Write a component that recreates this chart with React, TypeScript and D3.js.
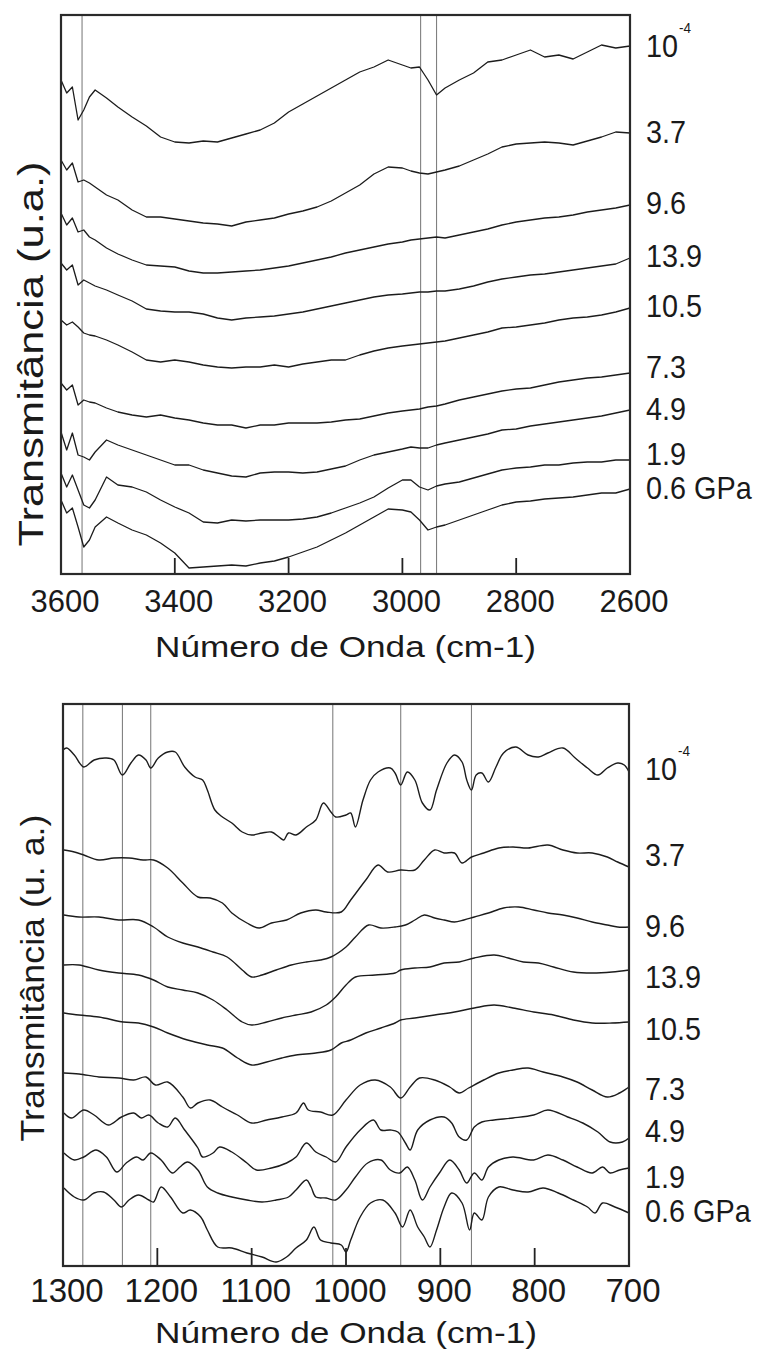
import React from "react";
import * as d3 from "d3";

type Pt = [number, number];

// ---------- Top panel (3600–2600 cm-1) ----------
const TOP_WAVENUMBERS = [3600, 3590, 3580, 3570, 3560, 3550, 3540, 3520, 3500, 3475, 3450, 3425, 3400, 3375, 3350, 3325, 3300, 3275, 3250, 3225, 3200, 3175, 3150, 3125, 3100, 3075, 3050, 3025, 3000, 2985, 2970, 2955, 2940, 2925, 2900, 2875, 2850, 2825, 2800, 2775, 2750, 2725, 2700, 2675, 2650, 2625, 2600];

const topP1e4 = [49.4, 48.1, 48.7, 45.4, 46.4, 47.7, 48.4, 47.6, 46.7, 45.7, 44.8, 43.7, 43.2, 43.1, 43.3, 43.2, 43.6, 44.0, 44.4, 45.1, 46.2, 47.0, 47.8, 48.6, 49.4, 50.2, 50.7, 51.4, 50.9, 50.6, 50.7, 49.4, 47.9, 48.6, 49.4, 50.1, 51.2, 51.4, 51.9, 52.4, 51.7, 51.9, 51.5, 52.2, 52.9, 52.6, 52.8];
const topP3_7 = [41.4, 40.4, 41.1, 39.2, 39.4, 39.1, 38.7, 37.9, 37.4, 36.4, 35.7, 35.7, 35.5, 35.3, 35.1, 35.0, 34.8, 35.2, 35.4, 35.6, 36.0, 36.3, 36.7, 37.3, 38.1, 38.9, 40.0, 40.7, 40.6, 40.3, 40.1, 40.0, 40.2, 40.4, 40.8, 41.4, 42.0, 42.7, 43.0, 43.1, 43.2, 43.1, 42.9, 43.3, 43.7, 44.2, 44.1];
const topP9_6 = [36.1, 34.9, 35.6, 34.2, 34.4, 33.7, 33.4, 32.6, 32.0, 31.4, 30.9, 30.8, 30.7, 30.3, 30.1, 30.1, 30.2, 30.3, 30.4, 30.6, 30.8, 31.1, 31.4, 31.7, 32.1, 32.4, 32.7, 33.0, 33.2, 33.4, 33.5, 33.6, 33.7, 33.6, 33.9, 34.2, 34.5, 34.9, 35.2, 35.4, 35.6, 35.7, 35.9, 36.2, 36.4, 36.6, 36.9];
const topP13_9 = [31.1, 30.4, 30.9, 28.9, 29.4, 29.1, 28.8, 28.4, 27.9, 27.3, 26.5, 26.3, 26.2, 26.2, 26.0, 25.6, 25.4, 25.6, 25.7, 25.8, 26.0, 26.2, 26.5, 26.8, 27.1, 27.4, 27.7, 27.9, 28.0, 28.1, 28.2, 28.2, 28.3, 28.3, 28.5, 28.8, 29.2, 29.5, 29.7, 29.9, 30.0, 30.2, 30.4, 30.6, 30.8, 31.0, 31.6];
const topP10_5 = [25.4, 24.9, 25.2, 24.7, 24.1, 23.9, 23.8, 23.4, 22.9, 22.2, 21.4, 21.2, 21.4, 21.2, 20.9, 20.7, 20.6, 20.7, 20.7, 20.9, 20.7, 21.0, 21.2, 21.4, 21.4, 21.9, 22.3, 22.6, 22.8, 22.9, 23.0, 23.1, 23.2, 23.3, 23.6, 23.9, 24.2, 24.6, 24.7, 24.9, 25.1, 25.4, 25.6, 25.7, 25.9, 26.2, 26.6];
const topP7_3 = [19.1, 18.4, 18.9, 16.9, 17.4, 17.2, 17.1, 16.6, 16.2, 15.9, 15.7, 15.9, 15.6, 15.4, 15.1, 14.9, 14.9, 14.6, 14.9, 14.9, 15.1, 15.1, 15.1, 15.2, 15.4, 15.5, 15.8, 16.1, 16.3, 16.4, 16.5, 16.7, 16.8, 17.0, 17.4, 17.7, 18.0, 18.3, 18.5, 18.6, 18.9, 19.2, 19.4, 19.6, 19.7, 19.9, 20.1];
const topP4_9 = [14.2, 12.4, 14.1, 11.9, 11.7, 11.4, 12.2, 13.4, 12.9, 12.4, 11.9, 11.4, 10.9, 10.9, 10.4, 10.1, 9.8, 9.7, 10.1, 10.2, 10.2, 10.1, 10.2, 10.5, 10.8, 11.4, 11.9, 12.2, 12.5, 12.7, 12.6, 12.6, 12.9, 13.1, 13.4, 13.7, 14.0, 14.4, 14.5, 14.8, 15.0, 15.2, 15.4, 15.6, 15.8, 16.1, 16.4];
const topP1_9 = [10.1, 8.7, 9.9, 8.4, 6.9, 6.6, 7.4, 9.7, 8.9, 8.7, 8.2, 7.4, 6.7, 6.1, 5.2, 5.1, 5.4, 5.3, 5.4, 5.4, 5.4, 5.5, 5.7, 6.1, 6.6, 7.1, 7.7, 8.6, 9.4, 9.4, 8.7, 8.4, 8.8, 9.0, 9.2, 9.6, 10.0, 10.4, 10.6, 10.7, 10.9, 10.9, 11.1, 11.2, 11.2, 11.4, 11.4];
const topP0_6 = [7.4, 6.1, 6.6, 4.7, 2.7, 3.4, 4.7, 5.7, 5.1, 4.4, 3.9, 3.1, 2.1, 0.6, 0.7, 0.8, 0.9, 0.8, 1.1, 1.3, 1.7, 2.2, 2.7, 3.4, 4.1, 4.9, 5.7, 6.5, 6.4, 6.2, 5.4, 4.4, 4.7, 4.9, 5.4, 5.9, 6.4, 6.9, 7.2, 7.3, 7.5, 7.6, 7.7, 7.9, 8.1, 8.1, 8.5];

const TOP_TICKS = [3600, 3400, 3200, 3000, 2800, 2600];
const TOP_MARKERS = [3563, 2968, 2940];
const PRESSURE_LABELS = ["10", "3.7", "9.6", "13.9", "10.5", "7.3", "4.9", "1.9", "0.6 GPa"];
const TOP_LABEL_LEVELS = [51.7, 43.1, 36.0, 30.7, 25.7, 19.6, 15.4, 10.9, 7.5];

// ---------- Bottom panel (1300–700 cm-1) ----------
const botP1e4: Pt[] = [[1300, 51.6], [1296, 51.8], [1288, 51.1], [1278, 49.9], [1267, 50.6], [1254, 50.8], [1246, 50.6], [1237, 49.1], [1228, 50.3], [1220, 51.1], [1212, 50.6], [1207, 49.8], [1199, 50.8], [1189, 51.4], [1181, 51.4], [1171, 49.9], [1160, 48.9], [1152, 48.6], [1147, 47.6], [1139, 45.6], [1131, 44.9], [1121, 44.3], [1110, 43.4], [1100, 43.1], [1089, 43.3], [1079, 43.4], [1071, 42.9], [1066, 42.6], [1061, 43.3], [1053, 43.1], [1042, 43.9], [1032, 44.6], [1024, 46.3], [1016, 45.4], [1011, 44.9], [1000, 45.1], [995, 45.3], [990, 43.9], [982, 46.6], [974, 48.6], [966, 49.4], [953, 49.8], [948, 49.3], [942, 48.1], [935, 49.4], [927, 48.6], [919, 46.3], [911, 45.6], [904, 47.6], [893, 50.3], [885, 51.1], [877, 50.4], [872, 48.6], [867, 47.6], [862, 49.1], [856, 49.3], [849, 48.4], [841, 49.9], [833, 51.3], [820, 51.9], [807, 51.1], [796, 50.9], [786, 51.3], [770, 51.8], [757, 50.8], [744, 49.8], [733, 49.1], [723, 49.8], [712, 50.3], [705, 50.1], [700, 49.4]];
const botP3_7: Pt[] = [[1299, 41.6], [1288, 41.4], [1278, 41.1], [1262, 40.6], [1246, 40.8], [1230, 40.8], [1215, 40.6], [1204, 40.6], [1189, 39.8], [1173, 38.3], [1157, 36.9], [1144, 36.8], [1131, 36.3], [1121, 35.3], [1105, 34.3], [1092, 33.8], [1079, 34.3], [1063, 34.6], [1048, 35.3], [1032, 35.6], [1021, 35.4], [1005, 35.4], [995, 36.6], [979, 38.6], [966, 40.1], [956, 39.4], [942, 39.6], [927, 39.6], [917, 40.6], [906, 41.6], [896, 41.3], [885, 41.3], [877, 40.3], [867, 40.9], [854, 41.3], [838, 41.8], [823, 41.9], [807, 41.8], [786, 42.1], [770, 41.6], [755, 41.3], [739, 41.3], [723, 40.9], [712, 40.4], [700, 39.9]];
const botP9_6: Pt[] = [[1299, 35.1], [1283, 34.9], [1262, 34.9], [1241, 34.6], [1220, 34.6], [1204, 33.9], [1189, 32.9], [1173, 32.3], [1157, 31.9], [1141, 31.4], [1126, 30.9], [1110, 29.6], [1100, 28.9], [1089, 29.1], [1074, 29.6], [1058, 30.1], [1042, 30.4], [1027, 30.6], [1016, 30.9], [1000, 31.9], [990, 32.9], [976, 34.1], [963, 33.8], [948, 33.9], [937, 34.1], [927, 34.6], [917, 35.1], [906, 34.8], [896, 34.6], [885, 34.4], [875, 34.6], [864, 34.9], [849, 35.3], [833, 35.8], [817, 35.9], [801, 35.6], [786, 35.3], [770, 35.1], [755, 34.8], [739, 34.4], [723, 34.1], [712, 33.9], [700, 33.9]];
const botP13_9: Pt[] = [[1299, 30.1], [1283, 30.1], [1262, 29.6], [1241, 29.3], [1220, 29.1], [1204, 28.6], [1189, 27.9], [1173, 27.6], [1157, 27.3], [1141, 26.6], [1126, 25.6], [1110, 24.4], [1100, 24.1], [1084, 24.4], [1068, 24.8], [1053, 25.1], [1037, 25.4], [1021, 26.1], [1011, 26.9], [1000, 28.1], [990, 28.9], [969, 29.1], [948, 29.3], [942, 29.6], [927, 29.8], [911, 29.9], [896, 30.3], [880, 30.4], [864, 30.8], [843, 31.1], [828, 30.8], [812, 30.4], [796, 30.3], [780, 29.9], [759, 29.4], [739, 29.3], [718, 29.4], [700, 29.6]];
const botP10_5: Pt[] = [[1299, 25.3], [1283, 25.1], [1262, 24.9], [1236, 24.4], [1220, 24.3], [1204, 23.9], [1189, 23.3], [1168, 22.6], [1147, 22.1], [1131, 21.8], [1115, 20.8], [1100, 20.1], [1084, 20.4], [1068, 20.8], [1053, 21.1], [1032, 21.3], [1016, 21.6], [1005, 22.3], [995, 22.6], [979, 23.3], [963, 23.8], [948, 24.3], [942, 24.6], [927, 24.8], [906, 25.1], [885, 25.4], [864, 25.8], [843, 26.1], [823, 25.8], [801, 25.4], [780, 25.1], [759, 24.6], [739, 24.3], [718, 24.3], [700, 24.4]];
const botP7_3: Pt[] = [[1299, 19.3], [1283, 19.2], [1262, 18.9], [1241, 18.8], [1225, 18.6], [1212, 18.9], [1202, 18.1], [1189, 18.4], [1173, 16.9], [1165, 15.8], [1157, 16.3], [1144, 16.6], [1131, 15.9], [1115, 15.1], [1100, 14.3], [1084, 14.6], [1068, 14.9], [1053, 15.3], [1045, 16.3], [1040, 15.6], [1027, 15.4], [1014, 15.1], [1000, 16.6], [985, 18.1], [969, 18.6], [953, 17.9], [942, 16.8], [932, 17.9], [922, 18.8], [906, 18.6], [890, 17.9], [880, 17.3], [870, 17.8], [854, 18.6], [838, 19.3], [823, 19.6], [807, 19.8], [791, 19.4], [770, 18.9], [755, 18.4], [739, 17.6], [723, 16.9], [710, 17.3], [700, 17.9]];
const botP4_9: Pt[] = [[1299, 15.3], [1291, 14.8], [1278, 15.6], [1267, 15.1], [1252, 14.1], [1238, 14.9], [1225, 15.3], [1217, 14.8], [1209, 15.1], [1199, 14.3], [1189, 13.9], [1181, 14.8], [1171, 13.6], [1157, 11.8], [1152, 10.9], [1141, 11.3], [1134, 11.9], [1121, 11.4], [1105, 10.3], [1095, 9.6], [1079, 9.8], [1063, 10.3], [1053, 10.9], [1042, 12.3], [1032, 11.4], [1021, 10.9], [1011, 10.4], [1000, 11.9], [985, 13.6], [971, 14.6], [963, 13.6], [953, 13.6], [945, 13.4], [937, 12.3], [932, 11.6], [924, 13.6], [911, 14.6], [896, 14.9], [888, 14.3], [880, 12.9], [872, 12.6], [864, 13.9], [856, 14.4], [843, 14.6], [823, 14.8], [801, 15.1], [786, 15.6], [765, 14.9], [749, 14.3], [733, 13.4], [720, 12.4], [707, 12.4], [700, 12.8]];
const botP1_9: Pt[] = [[1299, 11.3], [1288, 10.6], [1278, 10.9], [1265, 11.6], [1254, 10.9], [1243, 9.4], [1233, 10.3], [1222, 10.9], [1215, 10.6], [1207, 11.3], [1196, 10.6], [1184, 9.3], [1176, 9.9], [1168, 10.4], [1157, 9.6], [1147, 7.9], [1136, 7.3], [1121, 6.9], [1105, 6.6], [1089, 6.4], [1074, 6.6], [1061, 6.9], [1053, 7.6], [1042, 8.6], [1037, 7.9], [1032, 6.9], [1021, 6.8], [1011, 6.6], [1000, 7.6], [990, 8.9], [977, 10.3], [963, 10.6], [953, 9.6], [943, 9.3], [935, 9.9], [927, 8.6], [919, 6.6], [911, 7.9], [901, 9.3], [890, 10.6], [880, 9.6], [872, 8.3], [864, 9.3], [856, 8.6], [849, 9.9], [838, 10.6], [823, 10.9], [801, 10.6], [786, 11.1], [770, 10.6], [755, 9.9], [739, 9.3], [728, 9.9], [720, 9.3], [710, 9.6], [700, 9.8]];
const botP0_6: Pt[] = [[1299, 7.8], [1288, 6.9], [1278, 6.6], [1267, 7.3], [1257, 7.4], [1246, 6.6], [1238, 5.9], [1230, 6.6], [1220, 7.1], [1209, 6.6], [1204, 6.4], [1196, 7.9], [1186, 6.9], [1173, 5.3], [1165, 5.6], [1154, 4.9], [1147, 3.6], [1136, 1.9], [1121, 1.8], [1105, 1.3], [1089, 0.9], [1074, 0.4], [1063, 0.9], [1053, 1.8], [1042, 2.6], [1034, 3.9], [1027, 2.6], [1016, 2.3], [1005, 2.1], [1000, 1.4], [995, 2.6], [985, 4.9], [974, 6.3], [961, 6.6], [948, 5.3], [940, 3.9], [932, 5.6], [924, 3.9], [917, 2.9], [911, 1.9], [904, 3.6], [896, 5.9], [888, 7.3], [877, 6.3], [869, 3.6], [864, 5.3], [856, 4.6], [849, 6.9], [838, 7.9], [823, 7.6], [807, 7.4], [791, 7.8], [775, 7.3], [759, 6.6], [744, 5.9], [736, 5.3], [728, 6.3], [715, 5.9], [700, 5.3]];

const BOT_TICKS = [1300, 1200, 1100, 1000, 900, 800, 700];
const BOT_MARKERS = [1279, 1237, 1207, 1014, 942, 867];
const BOT_LABEL_LEVELS = [48.6, 40.0, 32.9, 27.8, 22.6, 16.6, 12.4, 7.8, 4.4];

const TOP_SERIES: Pt[][] = [topP1e4, topP3_7, topP9_6, topP13_9, topP10_5, topP7_3, topP4_9, topP1_9, topP0_6].map(
  (vals) => TOP_WAVENUMBERS.map((w, i) => [w, vals[i]] as Pt)
);
const BOT_SERIES: Pt[][] = [botP1e4, botP3_7, botP9_6, botP13_9, botP10_5, botP7_3, botP4_9, botP1_9, botP0_6];

const FONT = "'Liberation Sans', Arial, Helvetica, sans-serif";

interface PanelProps {
  xDomain: [number, number];
  left: number; right: number; top: number; bottom: number;
  yMax: number;
  series: Pt[][];
  markers: number[];
  ticks: number[];
  tickLen: number;
  tickFont: number;
  tickBaseline: number;
  labelLevels: number[];
  labelX: number;
  xTitle: string; xTitleBaseline: number; xTitleLen: number; xTitleFont: number;
  yTitle: string; yTitleX: number; yTitleCenter: number; yTitleLen: number; yTitleFont: number;
  smooth: boolean;
  strokeW: number;
}

function Panel(p: PanelProps) {
  const x = d3.scaleLinear().domain(p.xDomain).range([p.left, p.right]);
  const y = d3.scaleLinear().domain([0, p.yMax]).range([p.bottom, p.top]);
  const line = d3
    .line<Pt>()
    .x((d) => x(d[0]))
    .y((d) => y(d[1]))
    .curve(p.smooth ? d3.curveCatmullRom.alpha(0.5) : d3.curveLinear);
  const inner = p.ticks.filter((t) => t !== p.xDomain[0] && t !== p.xDomain[1]);
  return (
    <g>
      {p.markers.map((m) => (
        <line key={"m" + m} x1={x(m)} x2={x(m)} y1={p.top} y2={p.bottom} stroke="#808080" strokeWidth={1.1} />
      ))}
      {p.series.map((s, i) => (
        <path key={"s" + i} d={line(s) || ""} fill="none" stroke="#1c1c1c" strokeWidth={p.strokeW} strokeLinejoin="round" />
      ))}
      {inner.map((t) => (
        <line key={"t" + t} x1={x(t)} x2={x(t)} y1={p.bottom} y2={p.bottom - p.tickLen} stroke="#222" strokeWidth={1.8} />
      ))}
      <rect x={p.left} y={p.top} width={p.right - p.left} height={p.bottom - p.top} fill="none" stroke="#2a2a2a" strokeWidth={2.2} />
      {p.ticks.map((t) => (
        <text key={"tl" + t} x={x(t) + 4} y={p.tickBaseline} fontSize={p.tickFont} textAnchor="middle" fontFamily={FONT} fill="#1a1a1a">
          {t}
        </text>
      ))}
      <text
        x={(p.left + p.right) / 2}
        y={p.xTitleBaseline}
        fontSize={p.xTitleFont}
        textAnchor="middle"
        fontFamily={FONT}
        fill="#1a1a1a"
        textLength={p.xTitleLen}
        lengthAdjust="spacingAndGlyphs"
      >
        {p.xTitle}
      </text>
      <text
        transform={`translate(${p.yTitleX},${p.yTitleCenter}) rotate(-90)`}
        fontSize={p.yTitleFont}
        textAnchor="middle"
        fontFamily={FONT}
        fill="#1a1a1a"
        textLength={p.yTitleLen}
        lengthAdjust="spacingAndGlyphs"
      >
        {p.yTitle}
      </text>
      {PRESSURE_LABELS.map((lab, i) => (
        <g key={"l" + i} transform={`translate(${p.labelX},${y(p.labelLevels[i])}) scale(0.9,1)`}>
          <text x={0} y={0} fontSize={32} fontFamily={FONT} fill="#1a1a1a">
            {lab}
            {i === 0 ? (
              <tspan fontSize={15} dy={-24} dx={1}>
                -4
              </tspan>
            ) : null}
          </text>
        </g>
      ))}
    </g>
  );
}

export default function App() {
  return (
    <svg
      width={771}
      height={1353}
      viewBox="0 0 771 1353"
      style={{ position: "absolute", left: 0, top: 0, background: "#fff" }}
    >
      <rect x={0} y={0} width={771} height={1353} fill="#fff" />
      <Panel
        xDomain={[3600, 2600]}
        left={61} right={630} top={15} bottom={574}
        yMax={55.9}
        series={TOP_SERIES}
        markers={TOP_MARKERS}
        ticks={TOP_TICKS}
        tickLen={16}
        tickFont={31}
        tickBaseline={612}
        labelLevels={TOP_LABEL_LEVELS}
        labelX={646}
        xTitle="Número de Onda (cm-1)" xTitleBaseline={657} xTitleLen={381} xTitleFont={30}
        yTitle="Transmitância (u.a.)" yTitleX={43} yTitleCenter={354} yTitleLen={385} yTitleFont={35}
        smooth={false}
        strokeW={1.3}
      />
      <Panel
        xDomain={[1300, 700]}
        left={63} right={629} top={704} bottom={1266}
        yMax={56.2}
        series={BOT_SERIES}
        markers={BOT_MARKERS}
        ticks={BOT_TICKS}
        tickLen={18}
        tickFont={33}
        tickBaseline={1302}
        labelLevels={BOT_LABEL_LEVELS}
        labelX={645}
        xTitle="Número de Onda (cm-1)" xTitleBaseline={1343} xTitleLen={382} xTitleFont={29}
        yTitle="Transmitância (u. a.)" yTitleX={44} yTitleCenter={978} yTitleLen={327} yTitleFont={33}
        smooth={true}
        strokeW={1.4}
      />
    </svg>
  );
}
